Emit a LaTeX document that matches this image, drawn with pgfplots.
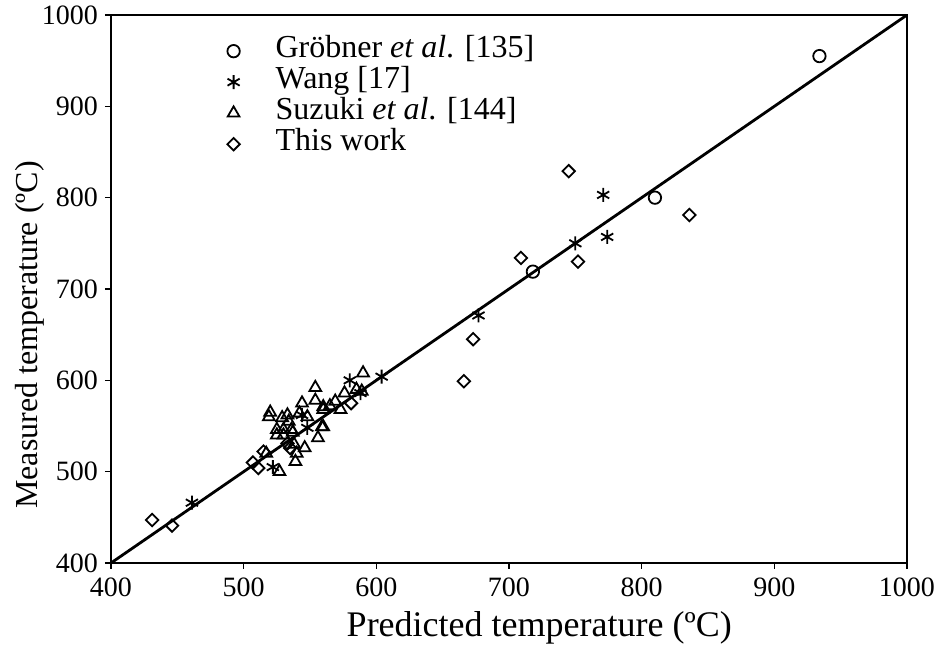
\documentclass[border=0pt]{standalone}
\usepackage{fontspec}
\setmainfont{Liberation Serif}
\usepackage{pgfplots}
\pgfplotsset{compat=1.18}
\begin{document}
\begin{tikzpicture}
\begin{axis}[
  at={(55.5pt,44.5pt)}, anchor=south west,
  scale only axis, width=398pt, height=274pt,
  xmin=400, xmax=1000, ymin=400, ymax=1000,
  xtick={400,500,...,1000}, ytick={400,500,...,1000},
  tick align=outside, xtick pos=bottom, ytick pos=left,
  major tick length=3pt,
  axis line style={line width=0.7pt},
  tick style={line width=0.7pt, black},
  tick label style={font=\fontsize{14}{16}\selectfont},
  xticklabel style={yshift=-1pt},
  /pgf/number format/assume math mode=true,
  /pgf/number format/1000 sep={},
  xlabel={Predicted temperature (ºC)},
  ylabel={Measured temperature (ºC)},
  xlabel style={font=\fontsize{18}{21}\selectfont, at={(axis description cs:0.538,-0.1186)}, anchor=center},
  ylabel style={font=\fontsize{16}{19}\selectfont, at={(axis description cs:-0.1018,0.416)}, anchor=center},
  legend style={at={(axis description cs:0.1457,0.963)}, anchor=north west,
    draw=none, fill=none, inner sep=0pt,
    font=\fontsize{16}{19}\selectfont,
    nodes={text height=11pt, text depth=4.5pt, inner ysep=0pt, inner xsep=3pt, anchor=west}},
  legend cell align=left,
  legend image code/.code={\path[draw=none, fill=none] (-3pt,0) -- (18pt,0); \draw[#1] plot[only marks] coordinates {(0pt,0pt)};},
]
\addplot[only marks, mark=o, mark size=3.1pt, mark options={line width=0.9pt, black}]
  coordinates {(718,719) (810,800) (934,955)};
\addlegendentry{Gröbner \textit{et al}. [135]}
\addplot[only marks, mark=asterisk, mark size=3.5pt, mark options={line width=0.9pt, black}]
  coordinates {(461,466) (522,505) (544,562) (548,548) (580,600) (588,586) (604,604)
               (677,671) (750,750) (771,803) (774,757)};
\addlegendentry{Wang [17]}
\addplot[only marks, mark=triangle, mark size=3.4pt, mark options={line width=0.9pt, black}]
  coordinates {(517,520) (520,565) (519,560) (529,559) (533,562) (544,575) (554,592)
               (554,578) (560,568) (559,549) (525,546) (530,546) (536,546) (542,564)
               (527,500) (539,511) (546,526) (540,520) (525,540) (530,540) (537,543)
               (556,537) (590,608) (589,588) (576,586) (569,577) (573,568) (560,571)
               (560,549) (548,560) (565,572) (585,590) (538,530) (534,555)};
\addlegendentry{Suzuki \textit{et al}. [144]}
\addplot[only marks, mark=square, mark size=2.2pt, mark options={rotate=45, line width=0.9pt, black}]
  coordinates {(431,447) (446,441) (507,510) (511,504) (515,522) (533,531) (535,526)
               (581,575) (666,599) (673,645) (709,734) (745,829) (752,730) (836,781)};
\addlegendentry{This work}
\addplot[black, line width=1.4pt, forget plot] coordinates {(400,400) (1000,1000)};
\end{axis}
\pgfresetboundingbox
\path (0,0) rectangle (469.5pt,326pt);
\end{tikzpicture}
\end{document}
